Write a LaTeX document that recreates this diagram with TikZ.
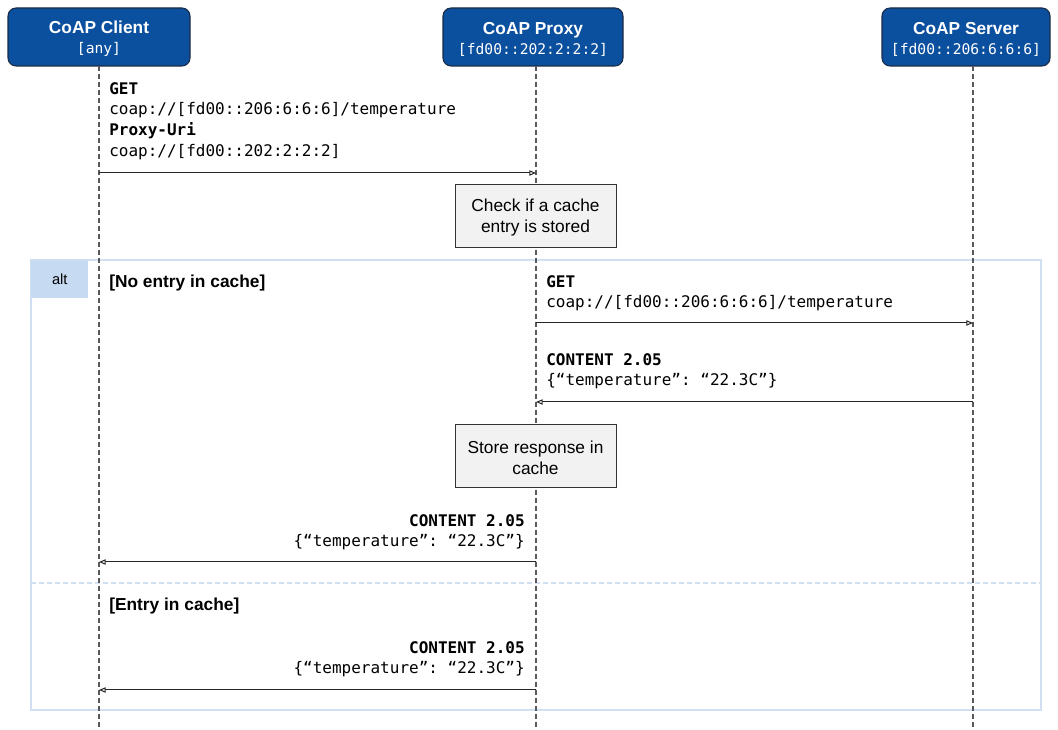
\documentclass[tikz,border=0pt]{standalone}
\usepackage{fontspec}
\setmainfont{Liberation Sans}
\setmonofont{DejaVu Sans Mono}
\usepackage{xcolor}
\usetikzlibrary{arrows.meta}

\definecolor{coapBlue}{HTML}{0B4F9F}
\definecolor{coapEdge}{HTML}{1B2B45}
\definecolor{altBlue}{HTML}{C6DBF1}
\definecolor{altLine}{HTML}{D0E0F2}
\definecolor{noteGray}{HTML}{F2F2F2}

\begin{document}
\begin{tikzpicture}
      [ x=0.75pt, y=-0.75pt
      , actor/.style={draw=coapEdge, fill=coapBlue, line width=0.8pt, rounded corners=6pt,
          text=white, align=center, minimum height=43.5pt, inner sep=0pt,
          font=\fontsize{13}{15}\selectfont}
      , note/.style={draw=black!80, fill=noteGray, line width=0.6pt, align=center,
          minimum width=120.75pt, minimum height=47.25pt, inner sep=0pt,
          font=\fontsize{13}{15.75}\selectfont}
      , lifeline/.style={draw=black!65, line width=1.1pt, dash pattern=on 3.75pt off 2.25pt}
      , msg/.style={draw=black!85, line width=0.75pt, -{Triangle[open, length=5pt, width=4pt]}}
      , msgtext/.style={inner sep=0pt, font=\ttfamily\fontsize{12}{15.5}\selectfont}
      , guard/.style={inner sep=0pt, anchor=west, font=\bfseries\fontsize{13}{15}\selectfont}
      ]
    \useasboundingbox (0,0) rectangle (1058,730);

    \draw[altLine, line width=0.9pt] (31,260) rectangle (1041,710);
    \node[fill=altBlue, anchor=north west, minimum width=42.75pt, minimum height=28.5pt,
          inner sep=0pt, font=\fontsize{11}{13}\selectfont] (ALT) at (31,260) {alt};
    \coordinate (Sep1) at (31,583);
    \coordinate (Sep2) at (1041,583);
    \draw[altLine, line width=0.9pt, dash pattern=on 3.75pt off 2.25pt] (Sep1) -- (Sep2);

    \node[actor, minimum width=136.5pt] (C) at (99,37)
      {\rule{0pt}{12.5pt}\textbf{CoAP Client}\\{\ttfamily\fontsize{11}{15}\selectfont [any]}};
    \node[actor, minimum width=135pt] (P) at (533,37)
      {\rule{0pt}{12.5pt}\textbf{CoAP Proxy}\\{\ttfamily\fontsize{11}{15}\selectfont [fd00::202:2:2:2]}};
    \node[actor, minimum width=126pt] (S) at (966,37)
      {\rule{0pt}{12.5pt}\textbf{CoAP Server}\\{\ttfamily\fontsize{11}{15}\selectfont [fd00::206:6:6:6]}};

    \coordinate (Ct) at (99,66);   \coordinate (Cb) at (99,730);
    \coordinate (Pt) at (536,66);  \coordinate (Pb) at (536,730);
    \coordinate (St) at (973,66);  \coordinate (Sb) at (973,730);
    \draw[lifeline] (Ct) -- (Cb);
    \draw[lifeline] (Pt) -- (Pb);
    \draw[lifeline] (St) -- (Sb);

    \node[msgtext, anchor=north west, align=left] (M1) at (109,82)
      {\textbf{GET}\\coap://[fd00::206:6:6:6]/temperature\\\textbf{Proxy-Uri}\\coap://[fd00::202:2:2:2]};
    \coordinate (C1) at (99,173);  \coordinate (P1) at (536,173);
    \draw[msg] (C1) -- (P1);

    \node[note] (N1) at (535.5,215.5) {\rule{0pt}{12.4pt}Check if a cache\\entry is stored};

    \node[guard] (G1) at (109,283.5) {[No entry in cache]};

    \node[msgtext, anchor=north west, align=left] (M2) at (546,275)
      {\textbf{GET}\\coap://[fd00::206:6:6:6]/temperature};
    \coordinate (P2) at (536,323);  \coordinate (S2) at (973,323);
    \draw[msg] (P2) -- (S2);

    \node[msgtext, anchor=north west, align=left] (M3) at (546,353)
      {\textbf{CONTENT 2.05}\\\{“temperature”: “22.3C”\}};
    \coordinate (S3) at (973,402);  \coordinate (P3) at (536,402);
    \draw[msg] (S3) -- (P3);

    \node[note] (N2) at (535.5,455.5) {\rule{0pt}{12.4pt}Store response in\\cache};

    \node[msgtext, anchor=north east, align=right] (M4) at (525,514)
      {\textbf{CONTENT 2.05}\\\{“temperature”: “22.3C”\}};
    \coordinate (P4) at (536,562);  \coordinate (C4) at (99,562);
    \draw[msg] (P4) -- (C4);

    \node[guard] (G2) at (109,606.5) {[Entry in cache]};

    \node[msgtext, anchor=north east, align=right] (M5) at (525,641)
      {\textbf{CONTENT 2.05}\\\{“temperature”: “22.3C”\}};
    \coordinate (P5) at (536,690);  \coordinate (C5) at (99,690);
    \draw[msg] (P5) -- (C5);
\end{tikzpicture}
\end{document}
